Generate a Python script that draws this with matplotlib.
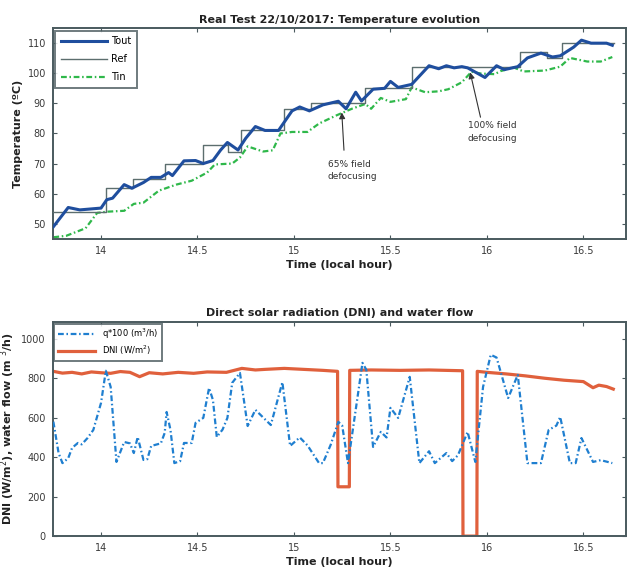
import matplotlib
matplotlib.use('Agg')
import matplotlib.pyplot as plt
import numpy as np

# Real test 22/10/2017 - outlet/inlet temperatures, reference, DNI and flow

# Outlet temperature (h, degC)
t_out = [13.753, 13.83, 13.89, 14.0, 14.03, 14.06, 14.12, 14.16, 14.22, 14.26, 14.31,
         14.35, 14.37, 14.43, 14.49, 14.53, 14.58, 14.62, 14.655, 14.71, 14.75, 14.80,
         14.85, 14.92, 14.99, 15.03, 15.08, 15.15, 15.23, 15.27, 15.32, 15.35, 15.41,
         15.47, 15.50, 15.54, 15.61, 15.70, 15.75, 15.79, 15.83, 15.87, 15.90, 15.99,
         16.05, 16.09, 16.16, 16.21, 16.28, 16.34, 16.38, 16.45, 16.49, 16.54, 16.62, 16.65]
T_out = [49.0, 55.4, 54.6, 55.2, 58.0, 58.5, 63.0, 61.8, 63.7, 65.4, 65.4,
         67.0, 66.0, 70.9, 71.0, 70.0, 71.0, 74.5, 77.0, 74.5, 78.4, 82.3,
         81.0, 81.0, 87.5, 88.8, 87.5, 89.5, 90.7, 88.2, 93.7, 90.8, 94.7,
         95.0, 97.3, 95.3, 96.3, 102.5, 101.5, 102.5, 101.8, 102.2, 101.8, 98.6,
         102.5, 101.2, 102.2, 105.1, 106.7, 105.4, 105.8, 108.7, 111.0, 110.0, 110.0, 109.3]

# Reference setpoint (step changes)
t_ref = [13.75, 14.026, 14.165, 14.33, 14.527, 14.66, 14.727, 14.95, 15.09, 15.366,
         15.61, 16.17, 16.31, 16.39, 16.66]
T_ref = [54, 62, 65, 70, 76, 74, 81, 88, 90, 95, 102, 107, 105, 110, 110]

# Inlet temperature
t_in = [13.753, 13.82, 13.92, 13.98, 14.03, 14.12, 14.17, 14.22, 14.30, 14.39, 14.47,
        14.55, 14.59, 14.68, 14.72, 14.76, 14.84, 14.89, 14.93, 14.99, 15.07, 15.13,
        15.22, 15.30, 15.37, 15.40, 15.45, 15.50, 15.58, 15.61, 15.68, 15.75, 15.80,
        15.87, 15.92, 15.97, 16.04, 16.07, 16.14, 16.19, 16.30, 16.38, 16.43, 16.52,
        16.59, 16.65]
T_in = [45.5, 46.0, 48.5, 53.6, 54.0, 54.3, 56.6, 57.0, 61.0, 63.0, 64.3,
        67.0, 69.7, 70.0, 72.0, 75.7, 74.0, 74.4, 80.0, 80.5, 80.5, 83.3,
        86.0, 88.2, 89.8, 88.2, 91.8, 90.5, 91.4, 95.3, 93.7, 94.0, 94.7,
        97.0, 100.5, 99.9, 99.7, 100.7, 101.9, 100.6, 100.9, 102.2, 105.1, 103.9,
        103.9, 105.4]

# Water flow x100 (m3/h)
t_q = [13.753, 13.78, 13.80, 13.83, 13.85, 13.88, 13.90, 13.93, 13.96, 14.0, 14.025,
       14.05, 14.08, 14.12, 14.15, 14.17, 14.19, 14.22, 14.24, 14.26, 14.31, 14.33,
       14.34, 14.36, 14.38, 14.41, 14.43, 14.47, 14.49, 14.53, 14.56, 14.58, 14.60,
       14.63, 14.655, 14.68, 14.72, 14.76, 14.80, 14.88, 14.94, 14.98, 15.03, 15.07,
       15.13, 15.15, 15.19, 15.23, 15.25, 15.28, 15.32, 15.355, 15.375, 15.41, 15.45,
       15.48, 15.50, 15.54, 15.60, 15.65, 15.70, 15.73, 15.79, 15.82, 15.85, 15.90,
       15.94, 15.98, 16.02, 16.05, 16.11, 16.16, 16.21, 16.28, 16.32, 16.36, 16.38,
       16.43, 16.46, 16.49, 16.55, 16.59, 16.65]
q = [580, 421, 370, 395, 447, 472, 465, 497, 538, 675, 838,
     756, 376, 477, 470, 421, 502, 386, 390, 457, 470, 523,
     629, 538, 370, 380, 472, 472, 574, 599, 751, 690, 502,
     540, 599, 777, 827, 558, 640, 563, 780, 457, 500, 460,
     370, 370, 462, 579, 560, 370, 640, 878, 843, 452, 528,
     500, 650, 599, 807, 370, 430, 370, 421, 380, 410, 528,
     376, 756, 919, 905, 700, 817, 370, 370, 538, 560, 604,
     370, 370, 497, 376, 385, 370]

# Direct normal irradiance (W/m2)
t_dni = [13.753, 13.80, 13.85, 13.90, 13.95, 14.0, 14.05, 14.10, 14.15, 14.2, 14.25,
         14.32, 14.4, 14.48, 14.55, 14.65, 14.73, 14.80, 14.85, 14.95, 15.05, 15.15,
         15.226, 15.228, 15.287, 15.289, 15.4, 15.55, 15.7, 15.874, 15.876, 15.948,
         15.95, 16.0, 16.1, 16.2, 16.3, 16.4, 16.5, 16.55, 16.58, 16.62, 16.655]
dni = [835, 826, 830, 822, 832, 828, 825, 834, 830, 808, 828,
       822, 830, 825, 832, 830, 850, 842, 845, 850, 845, 840,
       835, 250, 250, 840, 842, 840, 842, 838, 0, 0,
       835, 830, 822, 812, 800, 790, 783, 752, 765, 758, 745]

fig = plt.figure(figsize=(6.36, 5.74), dpi=100)
fig.patch.set_facecolor('white')

spine_col = '#4a5a5e'
tick_col = '#3a3a3a'


def style_axes(ax):
    for s in ax.spines.values():
        s.set_color(spine_col)
        s.set_linewidth(1.4)
    ax.tick_params(direction='in', top=True, right=True, length=3, width=0.8,
                   colors=spine_col, labelcolor=tick_col, labelsize=7, pad=5)
    ax.set_xticks([14, 14.5, 15, 15.5, 16, 16.5])
    ax.set_xticklabels(['14', '14.5', '15', '15.5', '16', '16.5'])
    ax.set_xlim(13.75, 16.72)


# --- Temperature evolution ---
ax1 = fig.add_axes([0.083, 0.584, 0.901, 0.367])
ax1.plot(t_out, T_out, color='#1f4e9e', lw=2.2, label='Tout', zorder=4)
ax1.plot(t_ref, T_ref, color='#5c6e6e', lw=1.0, drawstyle='steps-post', label='Ref', zorder=3)
ax1.plot(t_in, T_in, color='#2fb84a', lw=1.6, dashes=(2.6, 1.2, 0.7, 1.2), label='Tin', zorder=2)
ax1.set_ylim(45, 115)
ax1.set_yticks([50, 60, 70, 80, 90, 100, 110])
style_axes(ax1)
ax1.set_title('Real Test 22/10/2017: Temperature evolution', fontsize=8,
              fontweight='bold', color='#222222', pad=4)
ax1.set_xlabel('Time (local hour)', fontsize=8, fontweight='bold', color='#222222', labelpad=3)
ax1.set_ylabel('Temperature (\u00baC)', fontsize=8, fontweight='bold', color='#222222', labelpad=3)
leg1 = ax1.legend(loc='upper left', fontsize=7, frameon=True, fancybox=False,
                  borderaxespad=0.25, handlelength=4.8, handletextpad=0.4,
                  labelspacing=0.85, borderpad=0.55)
leg1.get_frame().set_edgecolor(spine_col)
leg1.get_frame().set_linewidth(1.4)

arrow_kw = dict(arrowstyle='-|>', color='#333333', lw=0.8, mutation_scale=9)
ax1.annotate('', xy=(15.247, 87.9), xytext=(15.26, 73.5), arrowprops=arrow_kw)
ax1.text(15.175, 71.2, '65% field\ndefocusing', fontsize=6.5, color='#333333',
         va='top', ha='left', linespacing=1.5)
ax1.annotate('', xy=(15.91, 101.2), xytext=(15.97, 84.5), arrowprops=arrow_kw)
ax1.text(15.90, 84.0, '100% field\ndefocusing', fontsize=6.5, color='#333333',
         va='top', ha='left', linespacing=1.5)

# --- DNI and water flow ---
ax2 = fig.add_axes([0.083, 0.066, 0.901, 0.373])
ax2.plot(t_q, q, color='#1f7fd0', lw=1.6, dashes=(2.6, 1.2, 0.7, 1.2),
         label='q*100 (m$^3$/h)', zorder=3)
ax2.plot(t_dni, dni, color='#e0603c', lw=2.3, label='DNI (W/m$^2$)', zorder=2)
ax2.set_ylim(0, 1085)
ax2.set_yticks([0, 200, 400, 600, 800, 1000])
style_axes(ax2)
ax2.set_title('Direct solar radiation (DNI) and water flow', fontsize=8,
              fontweight='bold', color='#222222', pad=4)
ax2.set_xlabel('Time (local hour)', fontsize=8, fontweight='bold', color='#222222', labelpad=3)
ax2.set_ylabel('DNI (W/m$^2$), water flow (m $^3$/h)', fontsize=8, fontweight='bold',
               color='#222222', labelpad=3)
leg2 = ax2.legend(loc='upper left', fontsize=6, frameon=True, fancybox=False,
                  borderaxespad=0.2, handlelength=4.5, labelspacing=0.3, borderpad=0.4)
leg2.get_frame().set_edgecolor(spine_col)
leg2.get_frame().set_linewidth(1.4)

fig.savefig('out.png', dpi=100)
